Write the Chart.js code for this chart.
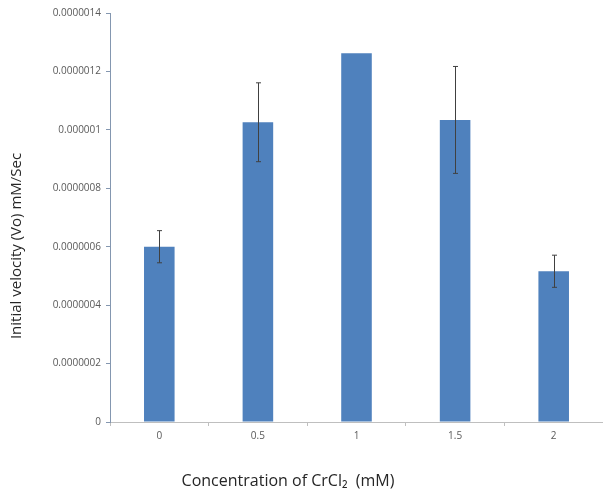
<!DOCTYPE html>
<html>
<head>
<meta charset="utf-8">
<script src="https://cdn.jsdelivr.net/npm/chart.js@4.4.1/dist/chart.umd.min.js"></script>
<style>
  html, body { margin: 0; padding: 0; background: #fff; }
  #wrap { width: 603px; height: 496px; }
</style>
</head>
<body>
<div id="wrap"><canvas id="c" width="603" height="496"></canvas></div>
<script>
// concentrations of CrCl2 (mM)
const categories = ['0', '0.5', '1', '1.5', '2'];
// initial velocity (mM/Sec)
const velocity = [0.00000060, 0.000001026, 0.000001262, 0.000001034, 0.000000516];
// standard error (0 = none drawn)
const errors = [0.000000055, 0.000000135, 0, 0.000000183, 0.000000055];

const yTitle = 'Initial velocity (Vo) mM/Sec';
const xTitle = 'Concentration of CrCl\u2082  (mM)';

// error bars + axis titles drawn on top
const extras = {
    id: 'extras',
    afterDatasetsDraw(chart) {
        const ctx = chart.ctx;
        const y = chart.scales.y;
        const meta = chart.getDatasetMeta(0);
        ctx.save();
        ctx.strokeStyle = '#404040';
        ctx.lineWidth = 1;
        for (let i = 0; i < velocity.length; i++) {
            if (!errors[i]) continue;
            const x = Math.round(meta.data[i].x) + 0.5;
            const top = y.getPixelForValue(velocity[i] + errors[i]);
            const bot = y.getPixelForValue(velocity[i] - errors[i]);
            ctx.beginPath();
            ctx.moveTo(x, top);
            ctx.lineTo(x, bot);
            ctx.moveTo(x - 2.5, top);
            ctx.lineTo(x + 2.5, top);
            ctx.moveTo(x - 2.5, bot);
            ctx.lineTo(x + 2.5, bot);
            ctx.stroke();
        }
        ctx.restore();
    },
    afterDraw(chart) {
        const ctx = chart.ctx;
        ctx.save();
        ctx.fillStyle = '#262626';
        ctx.textBaseline = 'middle';
        ctx.textAlign = 'center';
        ctx.font = '16px "Open Sans"';
        ctx.fillText(xTitle, 288, 481);
        ctx.font = '15px "Open Sans"';
        ctx.translate(17, 246);
        ctx.rotate(-Math.PI / 2);
        ctx.fillText(yTitle, 0, 0);
        ctx.restore();
    }
};

new Chart(document.getElementById('c'), {
    type: 'bar',
    data: {
        labels: categories,
        datasets: [{
            data: velocity,
            backgroundColor: '#4f81bd',
            categoryPercentage: 1,
            barPercentage: 0.31,
        }],
    },
    plugins: [extras],
    options: {
        responsive: false,
        animation: false,
        layout: { padding: { top: 13, right: 0, left: 0, bottom: 0 } },
        plugins: {
            legend: { display: false },
            tooltip: { enabled: false },
        },
        scales: {
            x: {
                afterFit: (s) => { s.height = 74; },
                grid: {
                    drawOnChartArea: false,
                    tickLength: 4,
                    color: '#bfbfbf',
                },
                border: { color: '#bfbfbf' },
                ticks: {
                    color: '#595959',
                    font: { family: '"Open Sans"', size: 10 },
                    padding: 4,
                },
            },
            y: {
                min: 0,
                max: 0.0000014,
                afterFit: (s) => { s.width = 110; },
                grid: {
                    drawOnChartArea: false,
                    tickLength: 4,
                    color: '#8497b0',
                },
                border: { color: '#8497b0' },
                ticks: {
                    stepSize: 0.0000002,
                    color: '#595959',
                    font: { family: '"Open Sans"', size: 10 },
                    padding: 5,
                    callback: function (val) {
                        return val.toFixed(7).replace(/\.?0+$/, '');
                    },
                },
            },
        },
    },
});
</script>
</body>
</html>
